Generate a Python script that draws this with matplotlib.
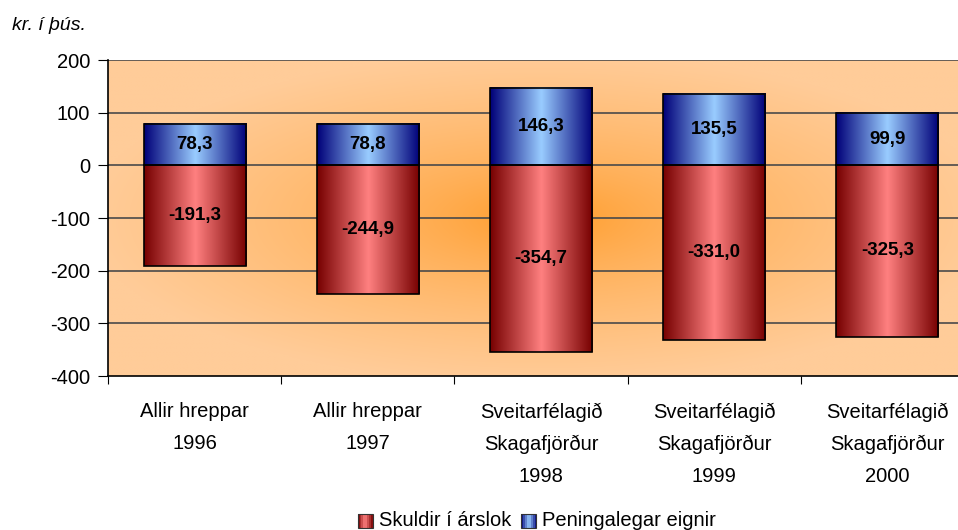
import matplotlib.pyplot as plt
import numpy as np
from matplotlib.patches import Patch, Rectangle
from matplotlib.legend_handler import HandlerBase
from matplotlib.colors import to_rgb

plt.rcParams['font.family'] = ['Liberation Sans', 'DejaVu Sans']

categories = ['Allir hreppar\n1996', 'Allir hreppar\n1997',
              'Sveitarfélagið\nSkagafjörður\n1998',
              'Sveitarfélagið\nSkagafjörður\n1999',
              'Sveitarfélagið\nSkagafjörður\n2000']
skuldir = [-191.3, -244.9, -354.7, -331.0, -325.3]
eignir = [78.3, 78.8, 146.3, 135.5, 99.9]
yticks = [-400, -300, -200, -100, 0, 100, 200]

RED = ('#760000', '#FF8080')
BLUE = ('#000078', '#99CCFF')


def fmt(v):
    return ('%.1f' % v).replace('.', ',')


def lerp(c1, c2, t):
    c1 = np.array(to_rgb(c1))
    c2 = np.array(to_rgb(c2))
    return c1[None, None, :] * (1 - t[..., None]) + c2[None, None, :] * t[..., None]


def cylinder(ax, x0, x1, y0, y1, dark, light):
    t = np.linspace(0, 1, 200)
    t = 1 - np.abs(t - 0.5) * 2
    img = lerp(dark, light, t[None, :])
    ax.imshow(img, extent=(x0, x1, y0, y1), aspect='auto',
              interpolation='bilinear', zorder=2)


class GradHandler(HandlerBase):
    # legend swatch with the same cylinder shading
    def create_artists(self, legend, orig_handle, xdescent, ydescent,
                       width, height, fontsize, trans):
        dark, light = orig_handle.grad
        k = 8
        arts = []
        for j in range(k):
            t = 1 - abs((j + 0.5) / k - 0.5) * 2
            c = lerp(dark, light, np.array([[t]]))[0, 0]
            arts.append(Rectangle((-xdescent + width * j / k, -ydescent - 2),
                                  width / k, height, facecolor=c,
                                  edgecolor='none', transform=trans))
        arts.append(Rectangle((-xdescent, -ydescent - 2), width, height,
                              facecolor='none', edgecolor='#333333',
                              linewidth=0.8, transform=trans))
        return arts


fig = plt.figure(figsize=(9.58, 5.30), dpi=100)
ax = fig.add_axes([108 / 958, 154 / 530, 866 / 958, 316 / 530])

# radial background
n = 300
gx, gy = np.meshgrid(np.linspace(-1, 1, n), np.linspace(-1, 1, n))
r = np.clip(np.sqrt(gx ** 2 + gy ** 2) / 1.05, 0, 1)
bg = lerp('#FF961C', '#FFCC99', r ** 0.6)
ax.imshow(bg, extent=(-0.5, 4.5, -400, 200), aspect='auto',
          interpolation='bilinear', zorder=0)

x = np.arange(len(categories))
w = 0.59
for i in range(len(categories)):
    cylinder(ax, x[i] - w / 2, x[i] + w / 2, skuldir[i], 0, *RED)
    cylinder(ax, x[i] - w / 2, x[i] + w / 2, 0, eignir[i], *BLUE)
ax.bar(x, skuldir, w, facecolor='none', edgecolor='black', linewidth=1.2, zorder=3)
ax.bar(x, eignir, w, facecolor='none', edgecolor='black', linewidth=1.2, zorder=3)

for i in range(len(categories)):
    ax.text(x[i], skuldir[i] / 2, fmt(skuldir[i]), ha='center', va='center',
            fontsize=13.5, fontweight='bold', zorder=4)
    ax.text(x[i], eignir[i] / 2, fmt(eignir[i]), ha='center', va='center',
            fontsize=13.5, fontweight='bold', zorder=4)

for yv in yticks[1:]:
    ax.axhline(yv, color='#4a4a4a', linewidth=1.2, zorder=1)

ax.set_xlim(-0.5, 4.5)
ax.set_ylim(-400, 200)
ax.set_yticks(yticks)
ax.set_yticklabels([str(v) for v in yticks])
ax.set_xticks(np.arange(-0.5, 5, 1))
ax.set_xticklabels([])
ax.set_xticks(x, minor=True)
ax.set_xticklabels(categories, minor=True, fontsize=14.5, linespacing=1.86)
ax.tick_params(axis='x', which='minor', length=0, pad=19)
ax.tick_params(axis='x', which='major', length=6, direction='out')
ax.tick_params(axis='y', length=7, direction='out', labelsize=14.5, pad=6)
for s in ['top', 'right']:
    ax.spines[s].set_visible(False)
ax.spines['left'].set_linewidth(1.2)
ax.spines['bottom'].set_linewidth(1.2)

fig.text(12 / 958, 1 - 25 / 530, 'kr. í þús.', fontsize=14, style='italic',
         ha='left', va='center')

h1 = Patch(label='Skuldir í árslok')
h1.grad = RED
h2 = Patch(label='Peningalegar eignir')
h2.grad = BLUE
fig.legend(handles=[h1, h2], loc='center', bbox_to_anchor=(537 / 958, 1 - 520 / 530),
           ncol=2, frameon=False, fontsize=14.5, handlelength=0.75, handleheight=0.7,
           handletextpad=0.3, columnspacing=0.5,
           handler_map={Patch: GradHandler()})

fig.savefig('out.png', dpi=100)
